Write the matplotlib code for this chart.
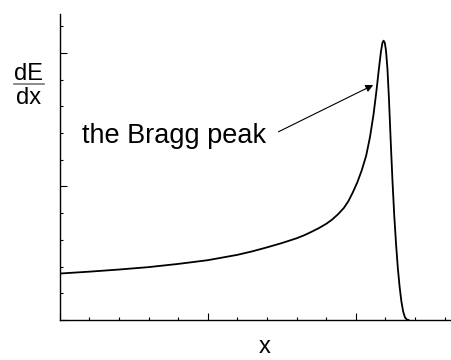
import matplotlib
matplotlib.use("Agg")
import matplotlib.pyplot as plt
from matplotlib.lines import Line2D
from matplotlib.ticker import MultipleLocator, NullFormatter

plt.rcParams['font.family'] = ['Liberation Sans', 'DejaVu Sans']

# Bragg curve: energy loss per unit path vs depth
depth = [0.0, 1.0, 2.0, 3.0, 4.0, 5.0, 6.0, 6.5, 7.0, 7.5, 8.0, 8.25, 8.5,
         8.75, 9.0, 9.2, 9.4, 9.6, 9.75, 9.9, 10.05, 10.2, 10.35, 10.48, 10.6,
         10.7, 10.78, 10.85, 10.9, 10.94, 10.98, 11.02, 11.07, 11.12, 11.18,
         11.24, 11.3, 11.36, 11.42, 11.48, 11.54, 11.6, 11.66, 11.72, 11.78]
dedx = [1.74, 1.81, 1.89, 1.98, 2.10, 2.24, 2.44, 2.57, 2.72, 2.88, 3.06, 3.17,
        3.30, 3.44, 3.60, 3.76, 3.96, 4.20, 4.45, 4.78, 5.15, 5.60, 6.15, 6.85,
        7.70, 8.60, 9.40, 10.05, 10.38, 10.46, 10.38, 10.10, 9.40, 8.30, 6.70,
        5.20, 3.90, 2.85, 1.95, 1.25, 0.70, 0.32, 0.10, 0.02, 0.0]

fig = plt.figure(figsize=(4.52, 3.6), dpi=100)
ax = fig.add_axes([59.7 / 452, 40 / 360, 1 - 59.7 / 452, 306 / 360])

ax.plot(depth, dedx, color='black', lw=1.3)

ax.set_xlim(0, 13.25)
ax.set_ylim(0, 11.46)

for side in ['top', 'right']:
    ax.spines[side].set_visible(False)
for side in ['left', 'bottom']:
    ax.spines[side].set_linewidth(1.0)

ax.xaxis.set_major_locator(MultipleLocator(5))
ax.xaxis.set_minor_locator(MultipleLocator(1))
ax.yaxis.set_major_locator(MultipleLocator(5))
ax.yaxis.set_minor_locator(MultipleLocator(1))
ax.xaxis.set_major_formatter(NullFormatter())
ax.yaxis.set_major_formatter(NullFormatter())
ax.tick_params(which='major', direction='in', length=5, width=0.8)
ax.tick_params(which='minor', direction='in', length=2.5, width=0.8)

# annotation pointing at the peak
ax.text(0.74, 6.63, 'the Bragg peak', fontsize=19.5, ha='left', va='baseline')
ax.annotate('', xy=(10.59, 8.80), xytext=(7.39, 7.05),
            arrowprops=dict(arrowstyle='-|>', color='black', lw=0.8,
                            mutation_scale=11, shrinkA=0, shrinkB=0))

# axis labels: x and a stacked dE/dx fraction
fig.text(265 / 452, 1 - 347 / 360, 'x', fontsize=17, ha='center', va='center')
fig.text(29 / 452, 1 - 80.5 / 360, 'dE', fontsize=17, ha='center', va='baseline')
fig.text(29 / 452, 1 - 104 / 360, 'dx', fontsize=17, ha='center', va='baseline')
fig.add_artist(Line2D([14 / 452, 44 / 452], [1 - 84 / 360, 1 - 84 / 360],
                      color='#777777', lw=1.2, transform=fig.transFigure))

fig.savefig('out.png', dpi=100)
